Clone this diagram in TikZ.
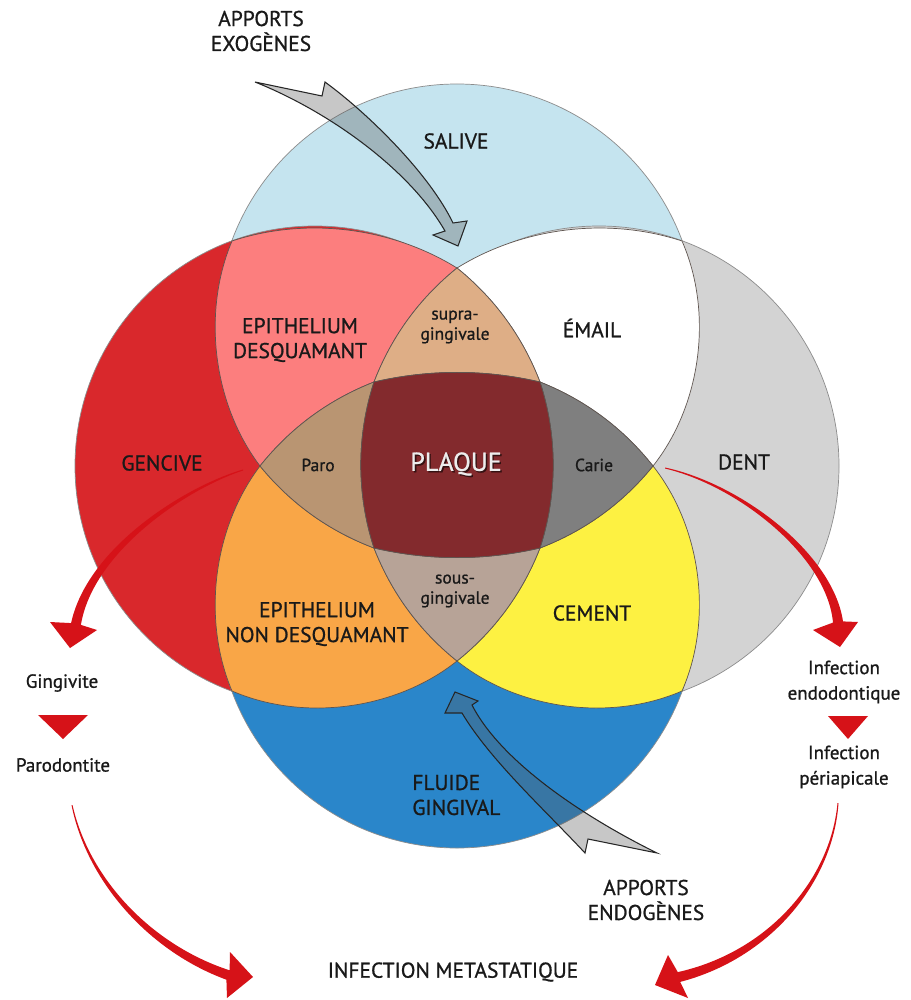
\documentclass[tikz,border=0pt]{standalone}
\usepackage{fontspec}
\setmainfont{PT Sans}[FakeBold=0.9]
\definecolor{salive}{RGB}{197,228,239}
\definecolor{gencive}{RGB}{217,40,44}
\definecolor{dent}{RGB}{211,211,211}
\definecolor{fluide}{RGB}{42,134,202}
\definecolor{pinkreg}{RGB}{252,126,126}
\definecolor{supra}{RGB}{222,174,134}
\definecolor{paro}{RGB}{185,149,114}
\definecolor{plaque}{RGB}{131,42,45}
\definecolor{carie}{RGB}{127,127,127}
\definecolor{orangereg}{RGB}{249,166,71}
\definecolor{sous}{RGB}{183,163,151}
\definecolor{yellowreg}{RGB}{253,241,66}
\definecolor{arrowred}{RGB}{214,18,24}
\definecolor{txt}{RGB}{25,25,25}
\definecolor{edge}{RGB}{95,85,80}
\begin{document}
\begin{tikzpicture}[x=0.02cm,y=-0.02cm,
  region/.style={draw=edge,line width=0.4pt,looseness=0.88},
  bigc/.style={draw=black!45,line width=0.4pt},
  lab/.style={text=txt,font=\fontsize{12.2}{14.2}\selectfont,align=center,inner sep=0pt},
  small/.style={text=txt,font=\fontsize{10}{11.5}\selectfont,align=center,inner sep=0pt},
  side/.style={text=txt,font=\fontsize{10.8}{14.5}\selectfont,align=center,inner sep=0pt},
  grayarrow/.style={fill=black!66,fill opacity=0.33,draw=black!85,line width=0.6pt,line join=miter},
  redarrow/.style={fill=arrowred,draw=none},
]
\useasboundingbox (0,0) rectangle (910,1000);
\fill[white] (0,0) rectangle (910,1000);

% junctions
\coordinate (J1) at (232,241);
\coordinate (J2) at (682,241);
\coordinate (J3) at (232,691);
\coordinate (J4) at (682,691);
\coordinate (J5) at (260,466);
\coordinate (J6) at (457,268);
\coordinate (J7) at (653,466);
\coordinate (J8) at (457,661);
\coordinate (K1) at (374,382);
\coordinate (K2) at (540,382);
\coordinate (K3) at (374,548);
\coordinate (K4) at (540,548);

% big circles
\path[bigc,fill=salive] (457,324) circle[radius=240];
\path[bigc,fill=gencive] (315,466) circle[radius=240];
\path[bigc,fill=dent] (599,466) circle[radius=240];
\path[bigc,fill=fluide] (457,608) circle[radius=240];

% inner regions
\path[region,fill=pinkreg] (J1) to[bend left=25] (J6) to[bend right=15] (K1) to[bend right=15] (J5) to[bend left=30] (J1) -- cycle;
\path[region,fill=white] (J6) to[bend left=25] (J2) to[bend left=31] (J7) to[bend right=15] (K2) to[bend right=15] (J6) -- cycle;
\path[region,fill=orangereg] (J5) to[bend right=15] (K3) to[bend right=15] (J8) to[bend left=31] (J3) to[bend left=30] (J5) -- cycle;
\path[region,fill=yellowreg] (J7) to[bend left=31] (J4) to[bend left=31] (J8) to[bend right=15] (K4) to[bend right=15] (J7) -- cycle;
\path[region,fill=supra] (J6) to[bend left=15] (K2) to[bend right=13] (K1) to[bend left=15] (J6) -- cycle;
\path[region,fill=paro] (J5) to[bend left=15] (K1) to[bend right=18] (K3) to[bend left=15] (J5) -- cycle;
\path[region,fill=carie] (K2) to[bend left=15] (J7) to[bend left=15] (K4) to[bend right=18] (K2) -- cycle;
\path[region,fill=sous] (K3) to[bend right=13] (K4) to[bend left=15] (J8) to[bend left=15] (K3) -- cycle;
\path[region,fill=plaque] (K1) to[bend left=13] (K2) to[bend left=18] (K4) to[bend left=13] (K3) to[bend left=18] (K1) -- cycle;

% labels
\node[lab] (exo) at (261,31) {APPORTS\\EXOGÈNES};
\node[lab] (salive) at (456,141) {SALIVE};
\node[lab] (epides) at (300,340) {EPITHELIUM\\DESQUAMANT};
\node[small] (supralab) at (455,327) {supra-\\gingivale};
\node[lab] (email) at (592,328) {ÉMAIL};
\node[lab] (gencive) at (162,463) {GENCIVE};
\node[small] (parolab) at (318,465) {Paro};
\node[text=plaque!40!black,font=\fontsize{14.8}{16}\selectfont,inner sep=0pt] (plaqueshadow) at (457.5,465.5) {PLAQUE};
\node[text=white!93!black,font=\fontsize{14.8}{16}\selectfont,inner sep=0pt] (plaquelab) at (456,464) {PLAQUE};
\node[small] (carielab) at (594,465) {Carie};
\node[lab] (dentlab) at (744,462) {DENT};
\node[small] (souslab) at (455,591) {sous-\\gingivale};
\node[lab] (epinon) at (317,624) {EPITHELIUM\\NON DESQUAMANT};
\node[lab] (cement) at (592,613) {CEMENT};
\node[lab,align=left,anchor=west] (fluidelab) at (412,795) {FLUIDE\\GINGIVAL};
\node[lab] (endo) at (646,900) {APPORTS\\ENDOGÈNES};
\node[lab] (meta) at (453,972) {INFECTION METASTATIQUE};
\node[side] (gingivite) at (62,683) {Gingivite};
\node[side] (parodontite) at (63,765) {Parodontite};
\node[side] (endodontique) at (844,682) {Infection\\endodontique};
\node[side] (periapicale) at (844,767) {Infection\\périapicale};

% grey arrows
\path[grayarrow] (255,82) -- (322,96) -- (325,82)
  .. controls (370,115) and (430,175) .. (453,223)
  -- (467,221) -- (458,246) -- (433,235) -- (445,231)
  .. controls (410,170) and (330,112) .. (255,82) -- cycle;
\path[grayarrow] (657,853) .. controls (580,815) and (500,760) .. (472,705)
  -- (478,701) -- (455,692) -- (445,713) -- (462,713)
  .. controls (490,760) and (545,810) .. (585,853) -- (588,839) -- cycle;

% red arrows
\path[redarrow] (243,470.5) .. controls (185.7,489.3) and (92.8,552.1) .. (80.9,624.9)
  -- (97,630) -- (70,648) -- (50,622) -- (71.1,623.1)
  .. controls (87.2,547.9) and (184.3,486.7) .. (243,469.5) -- cycle;
\path[redarrow] (665,468.5) .. controls (739.3,486.3) and (827.2,557) .. (833,622.6)
  -- (813,630) -- (840,647) -- (858,622) -- (843,621.4)
  .. controls (832.8,553) and (740.7,483.7) .. (665,467.5) -- cycle;
\path[redarrow] (71.5,805) .. controls (86.7,880.7) and (148,950.9) .. (226.4,979.7)
  -- (227,998) -- (253,977) -- (230,952) -- (229.6,970.3)
  .. controls (152,945.1) and (89.3,879.3) .. (72.5,805) -- cycle;
\path[redarrow] (837.5,803) .. controls (830.6,879.4) and (768.1,952) .. (677.8,972.1)
  -- (668,955) -- (655,985) -- (688,998) -- (680.2,981.9)
  .. controls (771.9,958) and (833.4,880.6) .. (838.5,803) -- cycle;
\path[redarrow] (38,715) -- (88,715) -- (63,739) -- cycle;
\path[redarrow] (828,716) -- (868,716) -- (848,739) -- cycle;
\end{tikzpicture}
\end{document}
